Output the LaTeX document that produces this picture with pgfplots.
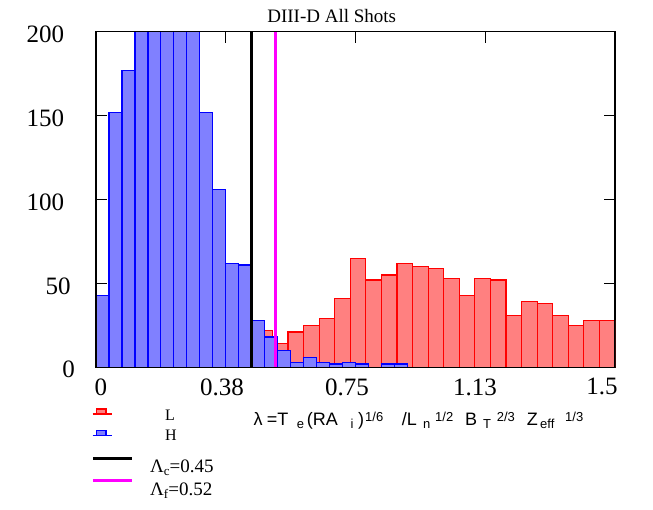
\documentclass[border=0pt]{standalone}
\usepackage{fontspec}
\setmainfont{Liberation Serif}
\newfontfamily\sansf{Liberation Sans}
\usepackage{pgfplots}
\pgfplotsset{compat=1.18}

\definecolor{barblue}{HTML}{8080FF}
\definecolor{barred}{HTML}{FF8080}
\definecolor{puremagenta}{RGB}{255,0,255}

% pieces of the x-axis formula
\newcommand{\mainf}{\sansf\fontsize{18}{18}\selectfont}
\newcommand{\smallf}{\sansf\fontsize{13}{13}\selectfont}
% shifted tick label: \tl{offset}{text}
\newcommand{\tl}[2]{\makebox[0pt]{\hspace*{#1}#2}}

\begin{document}
\begin{tikzpicture}
\useasboundingbox (0,0) rectangle (653pt,510pt);

\begin{axis}[
  at={(96pt,142.7pt)}, anchor=south west,
  width=519pt, height=335.6pt, scale only axis,
  xmin=0, xmax=1.5, ymin=0, ymax=200,
  xtick={0,0.375,0.75,1.125,1.5},
  xticklabels={\tl{9.6pt}{0},\tl{-7.5pt}{0.38},\tl{-17pt}{0.75},\tl{-20.5pt}{1.13},\tl{-26pt}{1.5}},
  ytick={0,50,100,150,200},
  yticklabels={0\hspace*{-10.7pt},50\hspace*{-6.4pt},100,150,200},
  tick label style={font=\fontsize{25}{25}\selectfont, inner sep=0pt},
  xticklabel style={anchor=north, yshift=-11pt},
  yticklabel style={anchor=east, xshift=-31.7pt, yshift=-2.5pt},
  tick align=inside,
  major tick length=11pt,
  tick style={black, line width=1.2pt},
  axis line style={line width=1.3pt},
  clip=true,
]
% L-mode shots
\addplot[ybar interval, fill=barred, draw=red, line width=1.2pt] coordinates {
  (0.465,22) (0.510,14) (0.555,21) (0.600,25) (0.645,29) (0.690,41)
  (0.735,65) (0.780,52) (0.825,55) (0.870,62) (0.915,60) (0.960,59)
  (1.005,53) (1.050,43) (1.095,53) (1.140,52) (1.185,31) (1.230,39)
  (1.275,38) (1.320,31) (1.365,25) (1.410,28) (1.455,28) (1.500,28)
};
% H-mode shots
\addplot[ybar interval, fill=barblue, draw=blue, line width=1.2pt] coordinates {
  (0,43) (0.0375,152) (0.075,177) (0.1125,230) (0.15,260) (0.1875,270)
  (0.225,250) (0.2625,215) (0.3,152) (0.3375,106) (0.375,62) (0.4125,61)
  (0.45,28) (0.4875,18) (0.525,10) (0.5625,3) (0.6,6) (0.6375,3)
  (0.675,2) (0.7125,3) (0.75,2) (0.7875,2)
};
\addplot[ybar interval, fill=barblue, draw=blue, line width=1.2pt] coordinates {
  (0.825,2) (0.8625,2) (0.9,2)
};
% thresholds
\addplot[black, line width=3pt] coordinates {(0.45,0) (0.45,200)};
\addplot[puremagenta, line width=3pt] coordinates {(0.52,0) (0.52,200)};
\draw[line width=1.3pt] (rel axis cs:0,0) rectangle (rel axis cs:1,1);
\end{axis}

% title
\node[anchor=base, inner sep=0pt, font=\fontsize{19}{19}\selectfont] at (331.7pt,487.3pt) {DIII-D All Shots};

% x-axis quantity
\node[anchor=base west, inner sep=0pt] at (253.3pt,84.5pt) {\mainf λ};
\node[anchor=base west, inner sep=0pt] at (266.7pt,84.5pt) {\mainf =T};
\node[anchor=base west, inner sep=0pt] at (296.7pt,81.5pt) {\smallf e};
\node[anchor=base west, inner sep=0pt] at (306.7pt,84.5pt) {\mainf (RA};
\node[anchor=base west, inner sep=0pt] at (350.5pt,81.5pt) {\smallf i};
\node[anchor=base west, inner sep=0pt] at (358pt,84.5pt) {\mainf )};
\node[anchor=base west, inner sep=0pt] at (365pt,88.5pt) {\smallf 1/6};
\node[anchor=base west, inner sep=0pt] at (401.7pt,84.5pt) {\mainf /L};
\node[anchor=base west, inner sep=0pt] at (423pt,81.5pt) {\smallf n};
\node[anchor=base west, inner sep=0pt] at (435pt,88.5pt) {\smallf 1/2};
\node[anchor=base west, inner sep=0pt] at (465pt,84.5pt) {\mainf B};
\node[anchor=base west, inner sep=0pt] at (483pt,81.5pt) {\smallf T};
\node[anchor=base west, inner sep=0pt] at (496.7pt,88.5pt) {\smallf 2/3};
\node[anchor=base west, inner sep=0pt] at (526.7pt,84.5pt) {\mainf Z};
\node[anchor=base west, inner sep=0pt] at (540pt,81.5pt) {\smallf eff};
\node[anchor=base west, inner sep=0pt] at (565pt,88.5pt) {\smallf 1/3};

% legend
\draw[red, line width=1.2pt, fill=barred] (96.7pt,96pt) rectangle (106pt,101pt);
\draw[red, line width=1.2pt] (92.7pt,96pt) -- (111.7pt,96pt);
\node[anchor=base west, inner sep=0pt, font=\fontsize{16}{16}\selectfont] at (165pt,89.7pt) {L};
\draw[blue, line width=1.2pt, fill=barblue] (96.7pt,74.5pt) rectangle (106pt,79.5pt);
\draw[blue, line width=1.2pt] (92.7pt,74.5pt) -- (111.7pt,74.5pt);
\node[anchor=base west, inner sep=0pt, font=\fontsize{16}{16}\selectfont] at (165pt,69pt) {H};
\draw[black, line width=3pt] (93pt,51pt) -- (132pt,51pt);
\node[anchor=base west, inner sep=0pt, font=\fontsize{19}{19}\selectfont] at (150pt,37pt) {Λ\raisebox{-0.3ex}{\fontsize{13}{13}\selectfont c}=0.45};
\draw[puremagenta, line width=3pt] (93pt,29pt) -- (132pt,29pt);
\node[anchor=base west, inner sep=0pt, font=\fontsize{19}{19}\selectfont] at (150pt,14pt) {Λ\raisebox{-0.3ex}{\fontsize{13}{13}\selectfont f}=0.52};
\end{tikzpicture}
\end{document}
